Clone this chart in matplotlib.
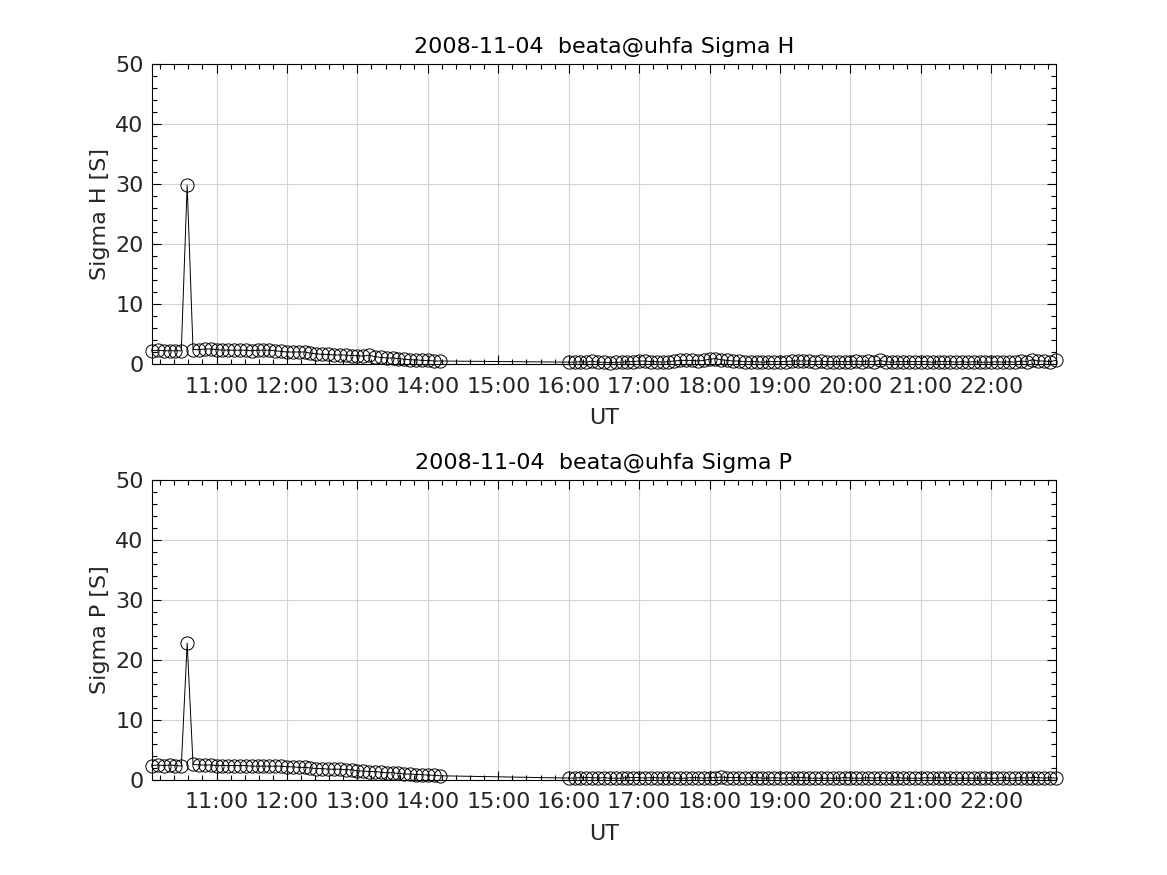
import matplotlib
matplotlib.use('Agg')
import matplotlib.pyplot as plt
import matplotlib.dates as mdates
import numpy as np
import pandas as pd

# 5 minute samples, two blocks of data with a gap between 14:10 and 16:00
day = '2008-11-04'
times1 = pd.date_range(day + ' 10:05', day + ' 14:10', freq='5min')
times2 = pd.date_range(day + ' 16:00', day + ' 22:55', freq='5min')

sigmaH1 = [2.2, 2.3, 2.2, 2.2, 2.2, 2.2, 29.8, 2.4, 2.4, 2.5, 2.5,
           2.4, 2.3, 2.3, 2.3, 2.3, 2.3, 2.2, 2.3, 2.3, 2.3, 2.2, 2.1,
           2.0, 2.0, 2.0, 2.0, 1.8, 1.7, 1.6, 1.6, 1.5, 1.5, 1.5, 1.4,
           1.4, 1.3, 1.5, 1.2, 1.1, 1.0, 1.0, 0.9, 0.8, 0.7, 0.7, 0.6,
           0.6, 0.5, 0.5]
sigmaH2 = [0.3, 0.3, 0.4, 0.3, 0.5, 0.3, 0.3, 0.2, 0.3, 0.3, 0.4, 0.4,
           0.5, 0.5, 0.4, 0.4, 0.3, 0.4, 0.5, 0.6, 0.6, 0.6, 0.5, 0.6,
           0.8, 0.9, 0.7, 0.6, 0.5, 0.5, 0.4, 0.4, 0.4, 0.3, 0.4, 0.4,
           0.4, 0.4, 0.5, 0.5, 0.5, 0.5, 0.4, 0.5, 0.4, 0.4, 0.4, 0.4,
           0.4, 0.5, 0.4, 0.5, 0.4, 0.6, 0.4, 0.3, 0.4, 0.4, 0.4, 0.4,
           0.4, 0.4, 0.3, 0.4, 0.4, 0.4, 0.3, 0.4, 0.3, 0.4, 0.3, 0.3,
           0.3, 0.4, 0.3, 0.4, 0.3, 0.5, 0.4, 0.7, 0.5, 0.5, 0.4, 0.6]

sigmaP1 = [2.4, 2.5, 2.4, 2.5, 2.4, 2.3, 22.8, 2.6, 2.5, 2.5, 2.5,
           2.4, 2.4, 2.4, 2.4, 2.4, 2.4, 2.3, 2.3, 2.3, 2.3, 2.3, 2.3,
           2.2, 2.2, 2.1, 2.1, 2.0, 1.9, 1.9, 1.8, 1.8, 1.8, 1.7, 1.7,
           1.5, 1.5, 1.4, 1.4, 1.3, 1.2, 1.2, 1.1, 1.0, 1.0, 0.9, 0.9,
           0.8, 0.8, 0.7]
sigmaP2 = [0.3, 0.3, 0.4, 0.4, 0.4, 0.3, 0.4, 0.3, 0.3, 0.3, 0.4, 0.4,
           0.4, 0.3, 0.4, 0.4, 0.3, 0.4, 0.3, 0.3, 0.3, 0.4, 0.4, 0.3,
           0.4, 0.4, 0.5, 0.4, 0.4, 0.4, 0.3, 0.4, 0.4, 0.3, 0.3, 0.4,
           0.3, 0.3, 0.4, 0.4, 0.4, 0.3, 0.3, 0.3, 0.3, 0.3, 0.3, 0.4,
           0.3, 0.3, 0.3, 0.4, 0.3, 0.4, 0.3, 0.3, 0.4, 0.3, 0.3, 0.3,
           0.3, 0.4, 0.3, 0.4, 0.3, 0.4, 0.3, 0.3, 0.3, 0.3, 0.3, 0.3,
           0.3, 0.3, 0.4, 0.3, 0.3, 0.4, 0.3, 0.4, 0.4, 0.3, 0.4, 0.3]

panels = [('Sigma H', sigmaH1, sigmaH2), ('Sigma P', sigmaP1, sigmaP2)]

txt = '#262626'
plt.rcParams['font.family'] = 'DejaVu Sans'
plt.rcParams['font.size'] = 16

fig = plt.figure(figsize=(11.67, 8.75), dpi=100)
positions = [[0.1302, 0.584, 0.7746, 0.343], [0.1302, 0.1086, 0.7746, 0.343]]

times = np.concatenate([times1.to_pydatetime(), times2.to_pydatetime()])

for pos, (name, v1, v2) in zip(positions, panels):
    ax = fig.add_axes(pos)
    vals = np.array(v1 + v2)
    ax.plot(times, vals, color='black', lw=0.7, marker='o', ms=9.5,
            mfc='none', mec='black', mew=0.7, clip_on=False, zorder=3)
    ax.set_xlim(times[0], times[-1])
    ax.set_ylim(0, 50)
    ax.set_yticks([0, 10, 20, 30, 40, 50])
    ax.yaxis.set_minor_locator(matplotlib.ticker.MultipleLocator(2))
    ax.xaxis.set_major_locator(mdates.HourLocator(byhour=range(11, 23)))
    ax.xaxis.set_major_formatter(mdates.DateFormatter('%H:%M'))
    ax.xaxis.set_minor_locator(mdates.MinuteLocator(byminute=[0, 12, 24, 36, 48]))
    ax.grid(True, which='major', color='#d4d4d4', lw=0.8)
    ax.set_axisbelow(True)
    ax.tick_params(which='both', direction='in', top=True, right=True,
                   colors='black', labelcolor=txt, labelsize=16)
    ax.tick_params(axis='x', which='major', pad=9)
    ax.tick_params(axis='y', which='major', pad=6)
    ax.tick_params(which='major', length=6.5, width=0.8)
    ax.tick_params(which='minor', length=3.6, width=0.8)
    for s in ax.spines.values():
        s.set_linewidth(0.8)
    ax.set_xlabel('UT', color=txt, labelpad=8)
    ax.set_ylabel(name + ' [S]', color=txt, labelpad=4)
    ax.set_title(day + '  beata@uhfa ' + name, fontsize=16, pad=8)

plt.savefig('out.png', dpi=100)
